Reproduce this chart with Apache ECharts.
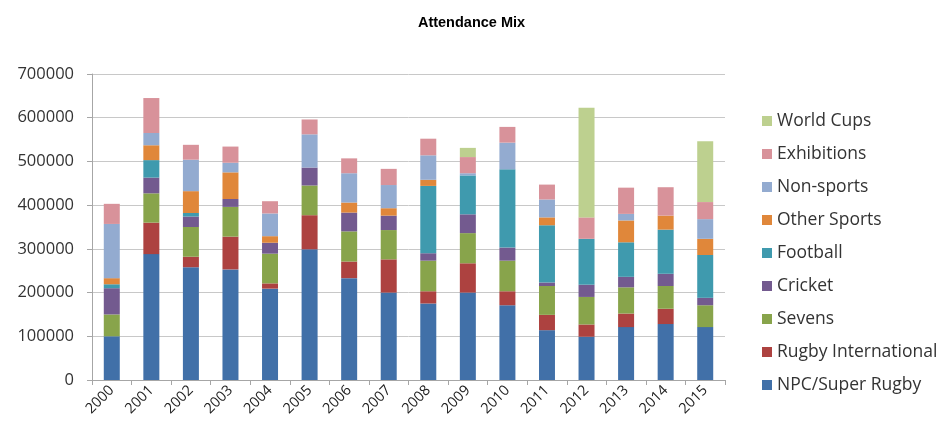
<!DOCTYPE html>
<html>
<head>
<meta charset="utf-8">
<script src="https://cdn.jsdelivr.net/npm/echarts@6/dist/echarts.min.js"></script>
<style>
  html, body { margin: 0; padding: 0; background: #fff; }
  #chart { width: 943px; height: 432px; }
</style>
</head>
<body>
<div id="chart"></div>
<script>
// years on the x axis
var years = ["2000", "2001", "2002", "2003", "2004", "2005", "2006", "2007",
  "2008", "2009", "2010", "2011", "2012", "2013", "2014", "2015"];

// attendance per category
var npcSuper = [100000, 288000, 258000, 253000, 209000, 299000, 233000, 200000,
  175000, 200000, 171000, 114000, 99000, 121000, 128000, 121000];
var rugbyIntl = [0, 72000, 24000, 75000, 12000, 78000, 38000, 76000,
  28000, 67000, 32000, 35000, 28000, 31000, 35000, 0];
var sevens = [50000, 67000, 68000, 68000, 68000, 68000, 69000, 67000,
  70000, 69000, 70000, 66000, 63000, 60000, 52000, 50000];
var cricket = [60000, 36000, 24000, 18000, 25000, 41000, 43000, 33000,
  17000, 43000, 30000, 8000, 28000, 24000, 28000, 17000];
var football = [9000, 40000, 8000, 0, 0, 0, 0, 0,
  154000, 89000, 179000, 131000, 105000, 79000, 101000, 98000];
var otherSports = [14000, 34000, 50000, 61000, 15000, 0, 23000, 17000,
  14000, 0, 0, 18000, 0, 50000, 32000, 37000];
var nonSports = [124000, 28000, 72000, 22000, 52000, 76000, 67000, 53000,
  56000, 5000, 61000, 41000, 0, 15000, 0, 45000];
var exhibitions = [46000, 80000, 34000, 37000, 28000, 34000, 34000, 37000,
  38000, 37000, 36000, 34000, 49000, 60000, 65000, 39000];
var worldCups = [0, 0, 0, 0, 0, 0, 0, 0,
  0, 21000, 0, 0, 251000, 0, 0, 139000];

var seriesNames = ["NPC/Super Rugby", "Rugby International", "Sevens", "Cricket",
  "Football", "Other Sports", "Non-sports", "Exhibitions", "World Cups"];
var seriesData = [npcSuper, rugbyIntl, sevens, cricket, football,
  otherSports, nonSports, exhibitions, worldCups];
var colors = ["#4170a8", "#ad4240", "#88a44b", "#735a8f", "#3f9aae",
  "#e0873a", "#93abd0", "#d8929a", "#bdd08f"];

var myChart = echarts.init(document.getElementById("chart"));

var series = [];
for (var i = 0; i < seriesNames.length; i++) {
  series.push({
    name: seriesNames[i],
    type: "bar",
    stack: "total",
    barWidth: 16,
    itemStyle: { color: colors[i] },
    data: seriesData[i]
  });
}

var option = {
  animation: false,
  textStyle: { fontFamily: "Open Sans" },
  title: {
    text: "Attendance Mix",
    left: "center",
    top: 10,
    textStyle: {
      fontFamily: "Liberation Sans",
      fontSize: 14.5,
      fontWeight: "bold",
      color: "#000"
    }
  },
  legend: {
    orient: "vertical",
    left: 757,
    top: 107,
    itemWidth: 10,
    itemHeight: 10,
    itemGap: 15,
    icon: "rect",
    data: seriesNames.slice().reverse(),
    textStyle: { fontSize: 17.5, color: "#333", fontFamily: "Open Sans" }
  },
  grid: {
    left: 92,
    right: 218,
    top: 74,
    bottom: 52
  },
  xAxis: {
    type: "category",
    data: years,
    axisLine: { lineStyle: { color: "#a6a6a6" } },
    axisTick: { show: true, length: 5, lineStyle: { color: "#a6a6a6" } },
    axisLabel: {
      rotate: 45,
      fontSize: 14.5,
      color: "#222",
      margin: 8
    }
  },
  yAxis: {
    type: "value",
    min: 0,
    max: 700000,
    interval: 100000,
    axisLine: { show: true, lineStyle: { color: "#a6a6a6" } },
    axisTick: { show: true, length: 5, lineStyle: { color: "#a6a6a6" } },
    splitLine: { lineStyle: { color: "#c8c8c8" } },
    axisLabel: {
      fontSize: 16.5,
      color: "#333",
      margin: 18,
      formatter: function (v) { return String(v); }
    }
  },
  series: series
};

myChart.setOption(option);
window.addEventListener("resize", myChart.resize);
</script>
</body>
</html>
